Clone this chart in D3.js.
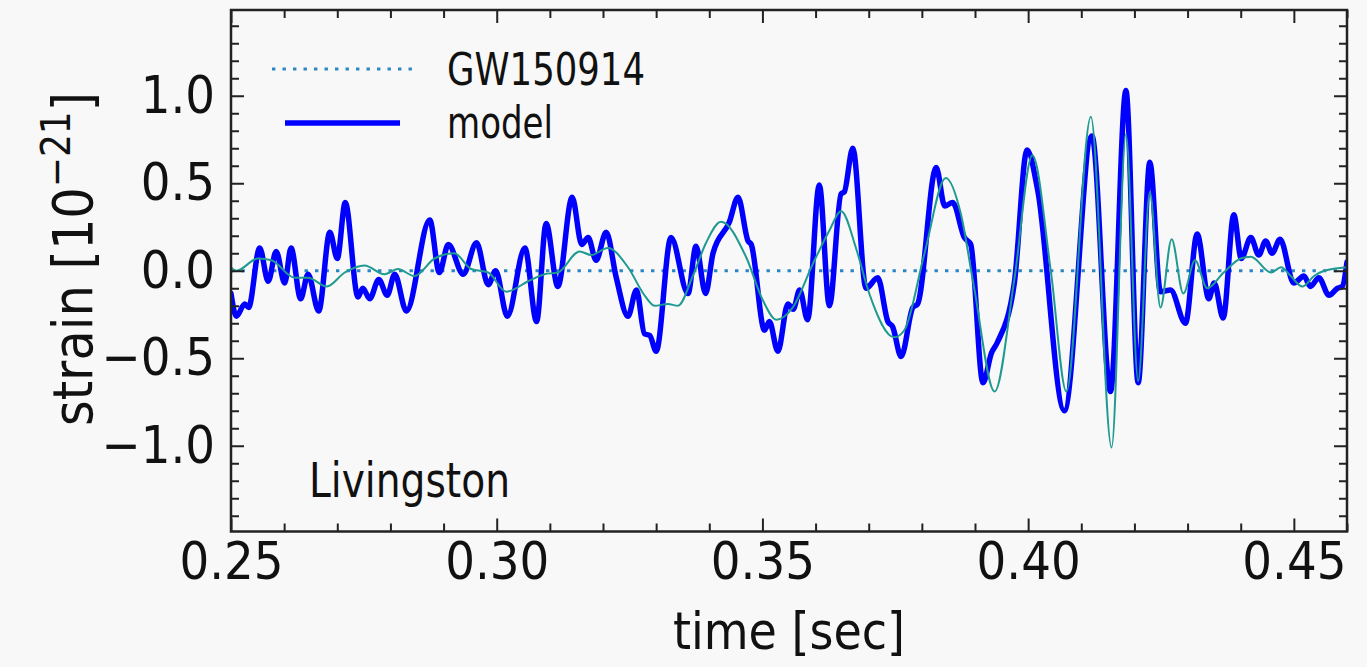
<!DOCTYPE html>
<html>
<head>
<meta charset="utf-8">
<script src="https://cdn.jsdelivr.net/npm/d3@7"></script>
<style>
  html, body { margin: 0; padding: 0; background: #f8f8f8; }
  svg { display: block; }
  text { font-family: "DejaVu Sans", sans-serif; font-stretch: condensed; fill: #111; }
</style>
</head>
<body>
<svg id="chart" width="1367" height="667"></svg>
<script>
// ---------------- data ----------------
const xTickValues = [0.25, 0.30, 0.35, 0.40, 0.45];
const xTickLabels = ["0.25", "0.30", "0.35", "0.40", "0.45"];
const yTickValues = [-1.0, -0.5, 0.0, 0.5, 1.0];
const yTickLabels = ["\u22121.0", "\u22120.5", "0.0", "0.5", "1.0"];

// GW150914 (dotted, flat)
const dataTime = [0.25, 0.46];
const dataStrain = [0.0, 0.0];

// model (thick blue)
const modelTime = [0.2500,0.2510,0.2526,0.2533,0.2554,0.2570,0.2585,0.2601,0.2613,0.2631,0.2645,0.2665,0.2686,0.2700,0.2715,0.2739,0.2748,0.2761,0.2778,0.2794,0.2808,0.2830,0.2874,0.2892,0.2909,0.2937,0.2962,0.2984,0.2998,0.3020,0.3053,0.3075,0.3093,0.3115,0.3142,0.3160,0.3172,0.3187,0.3206,0.3225,0.3247,0.3263,0.3278,0.3288,0.3300,0.3328,0.3360,0.3375,0.3393,0.3407,0.3438,0.3454,0.3473,0.3479,0.3504,0.3513,0.3529,0.3548,0.3558,0.3570,0.3585,0.3607,0.3626,0.3648,0.3654,0.3670,0.3695,0.3717,0.3736,0.3745,0.3761,0.3783,0.3792,0.3827,0.3843,0.3858,0.3880,0.3892,0.3915,0.3931,0.3942,0.3974,0.3998,0.4018,0.4068,0.4120,0.4155,0.4184,0.4207,0.4229,0.4249,0.4268,0.4296,0.4318,0.4340,0.4350,0.4367,0.4387,0.4401,0.4419,0.4434,0.4447,0.4459,0.4474,0.4500,0.4519,0.4531,0.4547,0.4566,0.4582,0.4591,0.4600];
const modelStrain = [-0.13,-0.26,-0.19,-0.21,0.13,-0.06,0.11,-0.07,0.13,-0.16,-0.02,-0.23,0.22,0.07,0.39,-0.15,-0.10,-0.16,-0.05,-0.14,-0.02,-0.23,0.29,-0.01,0.15,-0.02,0.16,-0.08,0.00,-0.26,0.13,-0.29,0.27,-0.09,0.42,0.15,0.19,0.06,0.22,-0.04,-0.26,-0.11,-0.36,-0.37,-0.46,0.19,-0.13,0.14,-0.13,0.10,0.28,0.42,0.17,0.15,-0.34,-0.29,-0.46,-0.19,-0.22,-0.11,-0.28,0.49,-0.20,0.44,0.45,0.70,-0.10,-0.04,-0.29,-0.32,-0.49,-0.21,-0.19,0.59,0.37,0.39,0.19,0.15,-0.64,-0.47,-0.41,-0.07,0.69,0.46,-0.80,0.77,-0.69,1.03,-0.64,0.62,-0.12,-0.11,-0.30,0.21,-0.16,-0.07,-0.27,0.32,0.07,0.19,0.09,0.17,0.10,0.18,-0.07,-0.03,-0.09,-0.04,-0.14,-0.10,-0.09,0.05];

// smoothed reconstruction (thin teal)
const reconTime = [0.2500,0.2510,0.2551,0.2576,0.2620,0.2645,0.2680,0.2714,0.2751,0.2789,0.2814,0.2845,0.2883,0.2920,0.2952,0.2984,0.3018,0.3059,0.3090,0.3115,0.3156,0.3178,0.3209,0.3247,0.3278,0.3297,0.3322,0.3341,0.3369,0.3394,0.3422,0.3469,0.3501,0.3526,0.3557,0.3595,0.3626,0.3648,0.3677,0.3701,0.3748,0.3767,0.3805,0.3845,0.3873,0.3898,0.3937,0.3974,0.4008,0.4043,0.4072,0.4118,0.4157,0.4184,0.4207,0.4229,0.4249,0.4270,0.4292,0.4314,0.4337,0.4368,0.4400,0.4419,0.4457,0.4476,0.4494,0.4516,0.4538,0.4557,0.4600];
const reconStrain = [0.02,0.00,0.07,0.06,-0.04,-0.04,-0.09,-0.01,0.03,-0.02,0.01,-0.03,0.07,0.10,0.01,-0.01,-0.12,-0.06,-0.02,-0.01,0.11,0.09,0.13,0.02,-0.14,-0.20,-0.19,-0.20,-0.03,0.16,0.28,0.08,-0.17,-0.28,-0.21,0.04,0.23,0.34,0.12,-0.13,-0.38,-0.34,0.10,0.53,0.33,-0.09,-0.69,-0.05,0.66,-0.01,-0.69,0.88,-1.01,0.78,-0.63,0.45,-0.21,0.18,-0.13,0.06,-0.10,-0.01,0.07,0.08,-0.01,0.02,-0.03,-0.09,-0.03,0.00,0.02];

// ---------------- layout ----------------
const svg = d3.select("#chart");
const L = 231, R = 1347, T = 10, B = 531.5;
const x = d3.scaleLinear().domain([0.25, 0.46]).range([L, R]);
const y = d3.scaleLinear().domain([-1.49, 1.49]).range([B, T]);

svg.append("rect").attr("width", 1367).attr("height", 667).attr("fill", "#f8f8f8");

svg.append("clipPath").attr("id", "clip")
  .append("rect").attr("x", L).attr("y", T).attr("width", R - L).attr("height", B - T);

const plot = svg.append("g").attr("clip-path", "url(#clip)");

const line = d3.line().x(d => x(d[0])).y(d => y(d[1])).curve(d3.curveMonotoneX);

// dotted GW150914
plot.append("path")
  .datum(d3.zip(dataTime, dataStrain))
  .attr("d", d3.line().x(d => x(d[0])).y(d => y(d[1])))
  .attr("fill", "none").attr("stroke", "#2b86c2").attr("stroke-width", 3.2)
  .attr("stroke-dasharray", "3.4,7.1");

// model
plot.append("path")
  .datum(d3.zip(modelTime, modelStrain))
  .attr("d", line)
  .attr("fill", "none").attr("stroke", "#0000ff").attr("stroke-width", 5.5)
  .attr("stroke-linejoin", "round").attr("stroke-linecap", "round");

// reconstruction
plot.append("path")
  .datum(d3.zip(reconTime, reconStrain))
  .attr("d", line)
  .attr("fill", "none").attr("stroke", "#1f9a90").attr("stroke-width", 2)
  .attr("stroke-linejoin", "round");

// ---------------- axes ----------------
const majorLen = 13, minorLen = 8;
const xMinor = d3.range(0.26, 0.4601, 0.01).filter(v => Math.abs(Math.round(v * 20) - v * 20) > 1e-6);
const yMinor = d3.range(-1.4, 1.4001, 0.1).filter(v => Math.abs(Math.round(v * 2) - v * 2) > 1e-6);

function addAxis(axisGen, tx, ty) {
  const g = svg.append("g").attr("transform", `translate(${tx},${ty})`).call(axisGen);
  g.select(".domain").remove();
  g.selectAll(".tick line").attr("stroke", "#222").attr("stroke-width", 2);
  return g;
}
// bottom major with labels
const gxb = addAxis(d3.axisBottom(x).tickValues(xTickValues).tickSize(-majorLen).tickPadding(11)
  .tickFormat((d, i) => xTickLabels[i]), 0, B);
gxb.selectAll("text").attr("font-size", 52).attr("fill", "#111")
  .style("font-family", '"DejaVu Sans", sans-serif').style("font-stretch", "condensed");
addAxis(d3.axisBottom(x).tickValues(xMinor).tickSize(-minorLen).tickFormat(""), 0, B);
// top
addAxis(d3.axisTop(x).tickValues(xTickValues).tickSize(-majorLen).tickFormat(""), 0, T);
addAxis(d3.axisTop(x).tickValues(xMinor).tickSize(-minorLen).tickFormat(""), 0, T);
// left with labels
const gyl = addAxis(d3.axisLeft(y).tickValues(yTickValues).tickSize(-majorLen).tickPadding(16)
  .tickFormat((d, i) => yTickLabels[i]), L, 0);
gyl.selectAll("text").attr("font-size", 52).attr("fill", "#111")
  .style("font-family", '"DejaVu Sans", sans-serif').style("font-stretch", "condensed");
addAxis(d3.axisLeft(y).tickValues(yMinor).tickSize(-minorLen).tickFormat(""), L, 0);
// right
addAxis(d3.axisRight(y).tickValues(yTickValues).tickSize(-majorLen).tickFormat(""), R, 0);
addAxis(d3.axisRight(y).tickValues(yMinor).tickSize(-minorLen).tickFormat(""), R, 0);

// frame
svg.append("rect").attr("x", L).attr("y", T).attr("width", R - L).attr("height", B - T)
  .attr("fill", "none").attr("stroke", "#222").attr("stroke-width", 2.5);

// ---------------- labels ----------------
svg.append("text").attr("x", (L + R) / 2).attr("y", 649).attr("text-anchor", "middle")
  .attr("font-size", 51).attr("textLength", 232).attr("lengthAdjust", "spacingAndGlyphs")
  .text("time [sec]");

const yl = svg.append("text").attr("transform", `translate(92,259) rotate(-90)`)
  .attr("text-anchor", "middle").attr("font-size", 55);
yl.append("tspan").text("strain [10");
yl.append("tspan").attr("dy", -22).attr("font-size", 40).text("\u221221");
yl.append("tspan").attr("dy", 22).text("]");

svg.append("text").attr("x", 309).attr("y", 497).attr("font-size", 48)
  .attr("textLength", 201).attr("lengthAdjust", "spacingAndGlyphs").text("Livingston");

// legend
const legend = svg.append("g");
legend.append("line").attr("x1", 272).attr("x2", 412).attr("y1", 69).attr("y2", 69)
  .attr("stroke", "#2b86c2").attr("stroke-width", 3.2).attr("stroke-dasharray", "3.4,7.1");
legend.append("text").attr("x", 447).attr("y", 85).attr("font-size", 44)
  .attr("textLength", 198).attr("lengthAdjust", "spacingAndGlyphs").text("GW150914");
legend.append("line").attr("x1", 285).attr("x2", 400).attr("y1", 123).attr("y2", 123)
  .attr("stroke", "#0000ff").attr("stroke-width", 5.5);
legend.append("text").attr("x", 447).attr("y", 138).attr("font-size", 44)
  .attr("textLength", 106).attr("lengthAdjust", "spacingAndGlyphs").text("model");
</script>
</body>
</html>
